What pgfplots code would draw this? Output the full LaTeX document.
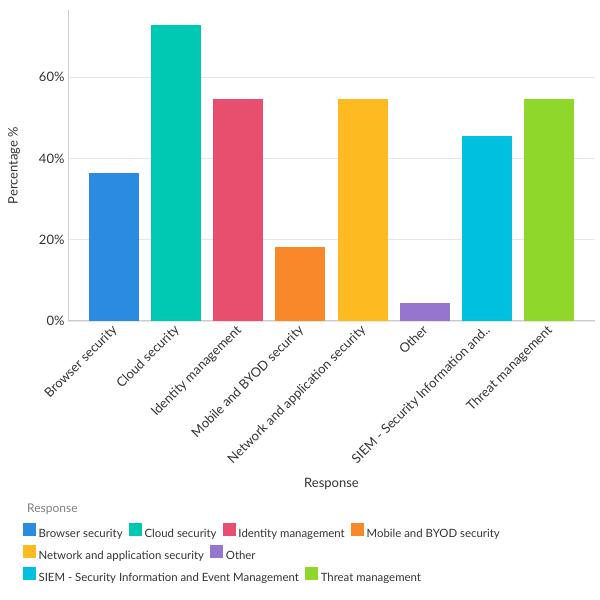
\documentclass[border=0pt]{standalone}
\usepackage{pgfplots}
\pgfplotsset{compat=1.18}
\usepackage{fontspec}
\setmainfont{Lato}
\definecolor{cA}{HTML}{2A8BE0}
\definecolor{cB}{HTML}{00C9B1}
\definecolor{cC}{HTML}{E84E6E}
\definecolor{cD}{HTML}{F8882A}
\definecolor{cE}{HTML}{FDBB21}
\definecolor{cF}{HTML}{9575CD}
\definecolor{cG}{HTML}{00C0E0}
\definecolor{cH}{HTML}{8FD82B}
\definecolor{txt}{HTML}{333333}
\definecolor{gridc}{HTML}{E6E6E6}
\definecolor{axc}{HTML}{CCCCCC}
\pgfplotsset{
  sq/.style={legend image code/.code={\fill[#1] (0bp,-2bp) rectangle (12bp,10bp);}},
  legrow/.style={hide axis, anchor=south west, scale only axis, width=1bp, height=1bp,
    xmin=0, xmax=1, ymin=0, ymax=1, legend columns=-1,
    legend style={at={(0,0)}, anchor=west, draw=none, fill=none, inner sep=0pt,
      font=\fontsize{11.4bp}{14bp}\selectfont\color{txt},
      nodes={inner sep=0pt},
      /tikz/every odd column/.style={column sep=3bp},
      /tikz/every even column/.style={column sep=6.5bp}}},
}
\begin{document}
\begin{tikzpicture}
\path[use as bounding box] (0,0) rectangle (600bp,600bp);
\begin{axis}[
  at={(68bp,279bp)}, anchor=south west, scale only axis,
  width=527bp, height=311bp,
  xmin=-0.74, xmax=7.74, ymin=0, ymax=76.5,
  ybar, bar width=0.806, bar shift=0pt,
  xtick={0,...,7},
  xticklabels={Browser security, Cloud security, Identity management, Mobile and BYOD security, Network and application security, Other, SIEM - Security Information and.., Threat management},
  x tick label style={xshift=-3bp, rotate=45, anchor=north east, font=\fontsize{13bp}{15bp}\selectfont, text=txt, inner sep=2bp},
  ytick={0,20,40,60},
  yticklabel={\pgfmathprintnumber{\tick}\%},
  /pgf/number format/assume math mode=true,
  y tick label style={font=\fontsize{13bp}{15bp}\selectfont, text=txt},
  axis x line*=bottom, axis y line*=left,
  axis line style={draw=axc, line width=1bp},
  major tick length=0pt,
  ymajorgrids, grid style={draw=gridc, line width=0.8bp},
  xlabel={Response}, ylabel={Percentage \%},
  xlabel style={at={(axis description cs:0.5,-0.524)}, anchor=center, font=\fontsize{13bp}{15bp}\selectfont, text=txt},
  ylabel style={at={(axis description cs:-0.1025,0.5)}, anchor=center, rotate=0, font=\fontsize{13bp}{15bp}\selectfont, text=txt},
]
\addplot[fill=cA, draw=none] coordinates {(0,36.4)};
\addplot[fill=cB, draw=none] coordinates {(1,72.7)};
\addplot[fill=cC, draw=none] coordinates {(2,54.5)};
\addplot[fill=cD, draw=none] coordinates {(3,18.2)};
\addplot[fill=cE, draw=none] coordinates {(4,54.5)};
\addplot[fill=cF, draw=none] coordinates {(5,4.5)};
\addplot[fill=cG, draw=none] coordinates {(6,45.5)};
\addplot[fill=cH, draw=none] coordinates {(7,54.5)};
\end{axis}
\node[anchor=base west, inner sep=0pt, font=\fontsize{12bp}{14bp}\selectfont, text=gray] at (27bp,87bp) {Response};
\begin{axis}[legrow, at={(23bp,69bp)}]
\addlegendimage{sq=cA}\addlegendentry{Browser security}
\addlegendimage{sq=cB}\addlegendentry{Cloud security}
\addlegendimage{sq=cC}\addlegendentry{Identity management}
\addlegendimage{sq=cD}\addlegendentry{Mobile and BYOD security}
\end{axis}
\begin{axis}[legrow, at={(23bp,47bp)}]
\addlegendimage{sq=cE}\addlegendentry{Network and application security}
\addlegendimage{sq=cF}\addlegendentry{Other}
\end{axis}
\begin{axis}[legrow, at={(23bp,25bp)}]
\addlegendimage{sq=cG}\addlegendentry{SIEM - Security Information and Event Management}
\addlegendimage{sq=cH}\addlegendentry{Threat management}
\end{axis}
\end{tikzpicture}
\end{document}
